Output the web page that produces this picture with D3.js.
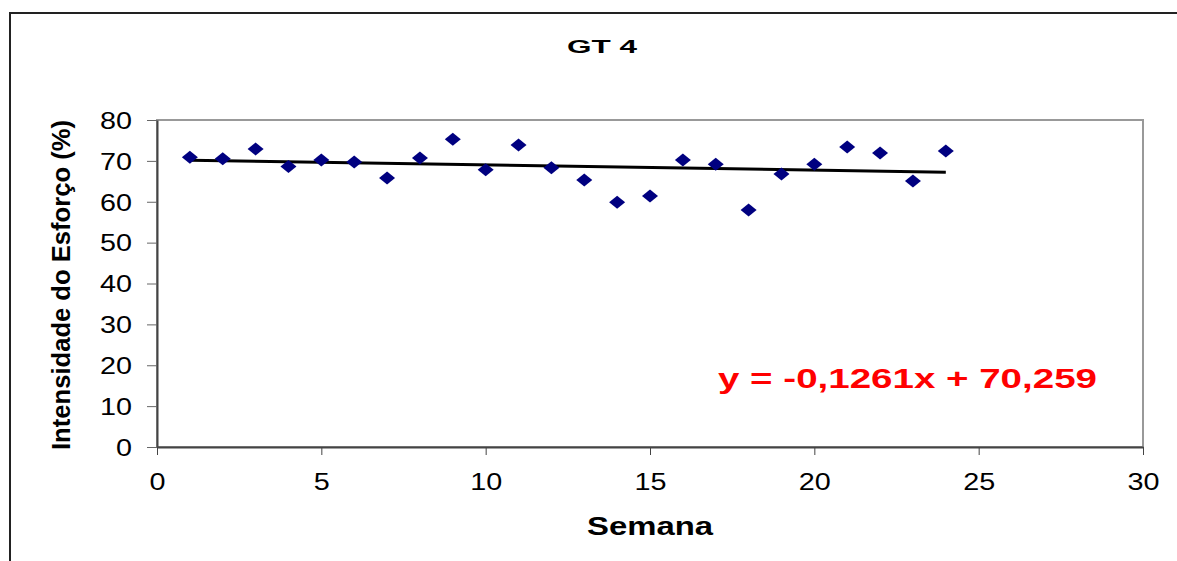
<!DOCTYPE html>
<html>
<head>
<meta charset="utf-8">
<script src="https://cdn.jsdelivr.net/npm/d3@7"></script>
<style>
  body { margin: 0; background: #fff; }
  svg { display: block; font-family: "Liberation Sans", Arial, sans-serif; }
</style>
</head>
<body>
<svg id="main"></svg>
<script>
var weeks = [1,2,3,4,5,6,7,8,9,10,11,12,13,14,15,16,17,18,19,20,21,22,23,24];
var effort = [70.9,70.5,72.9,68.6,70.2,69.7,65.8,70.7,75.3,67.8,73.9,68.3,65.3,59.9,61.4,70.2,69.2,58.0,66.8,69.2,73.4,71.9,65.1,72.4];
var xTicks = [0,5,10,15,20,25,30];
var yTicks = [0,10,20,30,40,50,60,70,80];
var slope = -0.1261;
var intercept = 70.259;

var w = 1177;
var h = 561;
var padLeft = 157, padRight = 1143, padTop = 120, padBottom = 447;

var svg = d3.select("#main")
  .attr("width", w)
  .attr("height", h);

// outer chart frame (cut off at right and bottom)
svg.append("rect")
  .attr("x", 10).attr("y", 13)
  .attr("width", w + 20).attr("height", h + 20)
  .attr("fill", "none")
  .attr("stroke", "#222")
  .attr("stroke-width", 2);

var xScale = d3.scaleLinear().domain([0, 30]).range([padLeft, padRight]);
var yScale = d3.scaleLinear().domain([0, 80]).range([padBottom, padTop]);

// plot area border
svg.append("rect")
  .attr("x", padLeft).attr("y", padTop)
  .attr("width", padRight - padLeft).attr("height", padBottom - padTop)
  .attr("fill", "none")
  .attr("stroke", "#999")
  .attr("stroke-width", 2);

var xAxis = d3.axisBottom(xScale).tickValues(xTicks).tickSize(8).tickSizeOuter(0);
var yAxis = d3.axisLeft(yScale).tickValues(yTicks).tickSize(10).tickSizeOuter(0);

var gx = svg.append("g")
  .attr("transform", "translate(0," + padBottom + ")")
  .call(xAxis);
gx.select(".domain").attr("stroke", "#444").attr("stroke-width", 2);
gx.selectAll(".tick line").attr("stroke", "#444").attr("stroke-width", 1);
gx.selectAll(".tick text")
  .attr("y", 43)
  .attr("dy", null)
  .attr("fill", "#000")
  .attr("textLength", function(d) { return String(d).length * 16; })
  .attr("lengthAdjust", "spacingAndGlyphs")
  .style("font-size", "23px");

var gy = svg.append("g")
  .attr("transform", "translate(" + padLeft + ",0)")
  .call(yAxis);
gy.select(".domain").attr("stroke", "#444").attr("stroke-width", 2);
gy.selectAll(".tick line").attr("stroke", "#666").attr("stroke-width", 1);
gy.selectAll(".tick text")
  .attr("x", -25)
  .attr("dy", "0.36em")
  .attr("fill", "#000")
  .attr("textLength", function(d) { return String(d).length * 16; })
  .attr("lengthAdjust", "spacingAndGlyphs")
  .style("font-size", "23px");

// trend line
svg.append("line")
  .attr("x1", xScale(weeks[0]))
  .attr("y1", yScale(slope * weeks[0] + intercept))
  .attr("x2", xScale(weeks[weeks.length - 1]))
  .attr("y2", yScale(slope * weeks[weeks.length - 1] + intercept))
  .attr("stroke", "#000")
  .attr("stroke-width", 3);

// diamond markers
svg.selectAll("path.pt")
  .data(weeks)
  .enter()
  .append("path")
  .attr("class", "pt")
  .attr("d", "M0,-6.5L8,0L0,6.5L-8,0Z")
  .attr("transform", function(d, i) {
    return "translate(" + xScale(d) + "," + yScale(effort[i]) + ")";
  })
  .attr("fill", "#000080");

// title
svg.append("text")
  .attr("x", 567).attr("y", 53)
  .attr("textLength", 70)
  .attr("lengthAdjust", "spacingAndGlyphs")
  .style("font-size", "19px")
  .style("font-weight", "bold")
  .text("GT 4");

// axis titles
svg.append("text")
  .attr("x", 587).attr("y", 535)
  .attr("textLength", 126)
  .attr("lengthAdjust", "spacingAndGlyphs")
  .style("font-size", "25px")
  .style("font-weight", "bold")
  .text("Semana");

svg.append("text")
  .attr("transform", "translate(70,450) rotate(-90)")
  .attr("textLength", 330)
  .attr("lengthAdjust", "spacingAndGlyphs")
  .style("font-size", "25px")
  .style("font-weight", "bold")
  .text("Intensidade do Esforço (%)");

// regression equation
svg.append("text")
  .attr("x", 718).attr("y", 388)
  .attr("textLength", 379)
  .attr("lengthAdjust", "spacingAndGlyphs")
  .attr("fill", "#ff0000")
  .style("font-size", "28px")
  .style("font-weight", "bold")
  .text("y = -0,1261x + 70,259");
</script>
</body>
</html>
